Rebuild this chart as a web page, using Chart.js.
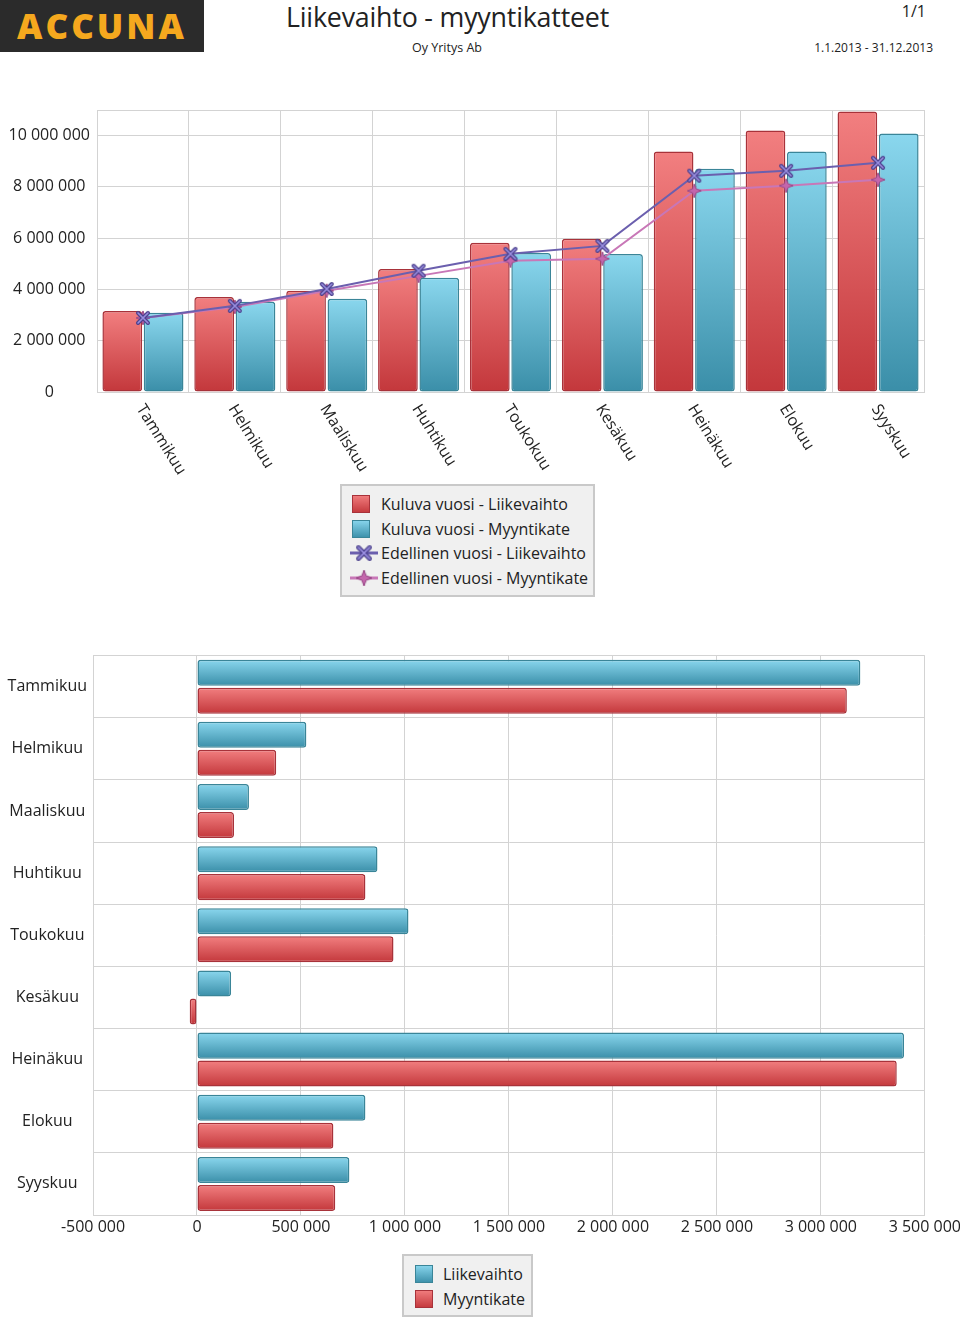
<!DOCTYPE html>
<html>
<head>
<meta charset="utf-8">
<script src="https://cdn.jsdelivr.net/npm/chart.js@4/dist/chart.umd.min.js"></script>
<style>
  body { margin: 0; background: #fff; font-family: "Open Sans", sans-serif; color: #222; }
  #sivu { position: relative; width: 960px; height: 1318px; overflow: hidden; }
  .abs { position: absolute; white-space: nowrap; }
  #logo { left: 0; top: 0; width: 204px; height: 52px; background: #2b2b2b; color: #f5a81e;
          font-weight: 800; font-size: 35px; letter-spacing: 3px; line-height: 52px; text-align: center; }
  #otsikko { left: 286px; top: 0; font-size: 26.8px; line-height: 34px; letter-spacing: -0.2px; }
  #yritys { left: 447px; top: 39px; font-size: 12.5px; transform: translateX(-50%); }
  #sivunro { right: 34px; top: 0; font-size: 16px; }
  #kausi { right: 27px; top: 39px; font-size: 12px; }
  .selite { position: absolute; background: #f0f0f0; border: 2px solid #c9c9c9; box-sizing: border-box; font-size: 16px; }
  .rivi { position: absolute; left: 0; height: 24px; line-height: 24px; }
  .rivi canvas { position: absolute; top: 0; }
  .rivi span { position: absolute; white-space: nowrap; }
  canvas.kaavio { position: absolute; left: 0; }
</style>
</head>
<body>
<div id="sivu">
  <div class="abs" id="logo">ACCUNA</div>
  <div class="abs" id="otsikko">Liikevaihto - myyntikatteet</div>
  <div class="abs" id="yritys">Oy Yritys Ab</div>
  <div class="abs" id="sivunro">1/1</div>
  <div class="abs" id="kausi">1.1.2013 - 31.12.2013</div>

  <canvas class="kaavio" id="kertyma" width="960" height="390" style="top:90px"></canvas>
  <div class="selite" id="selite1" style="left:340px; top:484px; width:255px; height:113px"></div>

  <canvas class="kaavio" id="kuukausi" width="964" height="610" style="top:640px"></canvas>
  <div class="selite" id="selite2" style="left:402px; top:1254px; width:131px; height:63px"></div>
</div>

<script>
// KUUKAUDET
const kuukaudet = ['Tammikuu', 'Helmikuu', 'Maaliskuu', 'Huhtikuu', 'Toukokuu', 'Kesäkuu', 'Heinäkuu', 'Elokuu', 'Syyskuu']

// KERTYMÄ (YLÄKAAVIO)
const kuluvaLiikevaihto = [3160000, 3710000, 3950000, 4800000, 5820000, 5980000, 9380000, 10200000, 10940000]
const kuluvaMyyntikate = [3090000, 3520000, 3640000, 4460000, 5420000, 5380000, 8710000, 9380000, 10080000]
const edellinenLiikevaihto = [2890000, 3360000, 4020000, 4730000, 5390000, 5700000, 8440000, 8630000, 8940000]
const edellinenMyyntikate = [2890000, 3320000, 3950000, 4530000, 5120000, 5200000, 7850000, 8050000, 8280000]
const ylaAkseli = [0, 2000000, 4000000, 6000000, 8000000, 10000000, 11000000]

// KUUKAUSITTAIN (ALAKAAVIO)
const kkLiikevaihto = [3190000, 526000, 250000, 868000, 1017000, 164000, 3400000, 810000, 733000]
const kkMyyntikate = [3125000, 381000, 178000, 810000, 945000, -35000, 3365000, 656000, 665000]

// VÄRIT
const punainenVaalea = '#f27f80'
const punainenTumma = '#c3373b'
const punainenReuna = '#a8323a'
const sininenVaalea = '#8ad7ee'
const sininenTumma = '#3a8ea8'
const sininenReuna = '#3a8598'
const violetti = '#6b5fae'
const pinkki = '#c877b7'
const ruudukko = '#d3d3d3'

function muotoile(arvo) {
    return String(arvo).replace(/\B(?=(\d{3})+(?!\d))/g, ' ')
}

// LIUKUVÄRI PYSTYPYLVÄILLE
function pystyLiuku(vaalea, tumma) {
    return function (c) {
        if (c.type !== 'data') return tumma
        const y = c.chart.scales.y
        if (!y) return tumma
        const a = y.getPixelForValue(c.raw)
        const b = y.getPixelForValue(0)
        if (!Number.isFinite(a) || !Number.isFinite(b) || a === b) return tumma
        const g = c.chart.ctx.createLinearGradient(0, Math.min(a, b), 0, Math.max(a, b))
        g.addColorStop(0, vaalea)
        g.addColorStop(1, tumma)
        return g
    }
}

// LIUKUVÄRI VAAKAPYLVÄILLE
function vaakaLiuku(vaalea, tumma) {
    return function (c) {
        if (c.type !== 'data') return tumma
        const s = c.chart.scales.y
        if (!s) return tumma
        const kategoria = s.height / kuukaudet.length
        const paikka = kategoria * 0.9 / 2
        const keski = s.getPixelForValue(c.dataIndex) + (c.datasetIndex - 0.5) * paikka
        const puoli = paikka * 0.93 / 2
        if (!Number.isFinite(keski) || !Number.isFinite(puoli) || puoli <= 0) return tumma
        const g = c.chart.ctx.createLinearGradient(0, keski - puoli, 0, keski + puoli)
        g.addColorStop(0, vaalea)
        g.addColorStop(1, tumma)
        return g
    }
}

// MERKIT
function risti(koko) {
    const c = document.createElement('canvas')
    c.width = c.height = koko
    const g = c.getContext('2d')
    const m = 3
    g.lineCap = 'round'
    ;[[4, '#4a3f8c'], [1.6, '#9a8fe0']].forEach(([w, col]) => {
        g.lineWidth = w
        g.strokeStyle = col
        g.beginPath()
        g.moveTo(m, m); g.lineTo(koko - m, koko - m)
        g.moveTo(koko - m, m); g.lineTo(m, koko - m)
        g.stroke()
    })
    return c
}

function tahti(koko) {
    const c = document.createElement('canvas')
    c.width = c.height = koko
    const g = c.getContext('2d')
    const r = koko / 2 - 1
    g.beginPath()
    for (let i = 0; i < 8; i++) {
        const a = i * Math.PI / 4 - Math.PI / 2
        const rr = i % 2 === 0 ? r : r * 0.38
        g.lineTo(koko / 2 + rr * Math.cos(a), koko / 2 + rr * Math.sin(a))
    }
    g.closePath()
    g.fillStyle = '#c466ac'
    g.fill()
    g.lineWidth = 1
    g.strokeStyle = '#9a4a88'
    g.stroke()
    return c
}

const ristiMerkki = risti(16)
const tahtiMerkki = tahti(16)

Chart.defaults.font.family = '"Open Sans", sans-serif'
Chart.defaults.font.size = 16
Chart.defaults.color = '#222'

// KALLISTETUT KUUKAUSINIMET
const kallistetut = {
    id: 'kallistetut',
    afterDraw(chart) {
        const x = chart.scales.x
        const ctx = chart.ctx
        ctx.save()
        ctx.font = '16px "Open Sans", sans-serif'
        ctx.fillStyle = '#222'
        ctx.textAlign = 'left'
        ctx.textBaseline = 'middle'
        kuukaudet.forEach((kk, i) => {
            ctx.save()
            ctx.translate(x.getPixelForValue(i) - 3, chart.chartArea.bottom + 14)
            ctx.rotate(58 * Math.PI / 180)
            ctx.fillText(kk, 0, 0)
            ctx.restore()
        })
        ctx.restore()
    }
}

// KERTYMÄKAAVIO
let kertyma = new Chart(document.getElementById('kertyma'), {
    type: 'bar',
    data: {
        labels: kuukaudet,
        datasets: [
            {
                type: 'line',
                label: 'Edellinen vuosi - Liikevaihto',
                data: edellinenLiikevaihto,
                borderColor: violetti,
                borderWidth: 2,
                pointStyle: ristiMerkki,
                tension: 0,
                order: 1
            },
            {
                type: 'line',
                label: 'Edellinen vuosi - Myyntikate',
                data: edellinenMyyntikate,
                borderColor: pinkki,
                borderWidth: 2,
                pointStyle: tahtiMerkki,
                tension: 0,
                order: 2
            },
            {
                label: 'Kuluva vuosi - Liikevaihto',
                data: kuluvaLiikevaihto,
                backgroundColor: pystyLiuku(punainenVaalea, punainenTumma),
                borderColor: punainenReuna,
                borderWidth: 1.5,
                borderRadius: 3,
                borderSkipped: false,
                categoryPercentage: 0.9,
                barPercentage: 0.96,
                order: 3
            },
            {
                label: 'Kuluva vuosi - Myyntikate',
                data: kuluvaMyyntikate,
                backgroundColor: pystyLiuku(sininenVaalea, sininenTumma),
                borderColor: sininenReuna,
                borderWidth: 1.5,
                borderRadius: 3,
                borderSkipped: false,
                categoryPercentage: 0.9,
                barPercentage: 0.96,
                order: 4
            }
        ]
    },
    options: {
        responsive: false,
        animation: false,
        devicePixelRatio: 1,
        layout: { padding: { top: 20, right: 36, left: 0, bottom: 0 } },
        plugins: { legend: { display: false }, tooltip: { enabled: false } },
        scales: {
            x: {
                grid: { color: ruudukko, drawTicks: false },
                border: { color: ruudukko },
                ticks: { display: false },
                afterFit(s) { s.height = 88 }
            },
            y: {
                min: 0,
                max: 11000000,
                grid: { color: ruudukko, drawTicks: false },
                border: { color: ruudukko },
                ticks: {
                    padding: 7,
                    crossAlign: 'center',
                    callback: v => v === 11000000 ? '' : muotoile(v)
                },
                afterBuildTicks(s) { s.ticks = ylaAkseli.map(v => ({ value: v })) },
                afterFit(s) { s.width = 97 }
            }
        }
    },
    plugins: [kallistetut]
})

// KUUKAUSIKAAVIO
let kuukausi = new Chart(document.getElementById('kuukausi'), {
    type: 'bar',
    data: {
        labels: kuukaudet,
        datasets: [
            {
                label: 'Liikevaihto',
                data: kkLiikevaihto,
                backgroundColor: vaakaLiuku(sininenVaalea, sininenTumma),
                borderColor: sininenReuna,
                borderWidth: 1.5,
                borderRadius: 3,
                borderSkipped: false,
                categoryPercentage: 0.9,
                barPercentage: 0.93
            },
            {
                label: 'Myyntikate',
                data: kkMyyntikate,
                backgroundColor: vaakaLiuku(punainenVaalea, punainenTumma),
                borderColor: punainenReuna,
                borderWidth: 1.5,
                borderRadius: 3,
                borderSkipped: false,
                categoryPercentage: 0.9,
                barPercentage: 0.93
            }
        ]
    },
    options: {
        indexAxis: 'y',
        responsive: false,
        animation: false,
        devicePixelRatio: 1,
        layout: { padding: { top: 15, right: 36, left: 0, bottom: 0 } },
        plugins: { legend: { display: false }, tooltip: { enabled: false } },
        scales: {
            x: {
                min: -500000,
                max: 3500000,
                grid: { color: ruudukko, drawTicks: false },
                border: { color: ruudukko },
                ticks: { stepSize: 500000, padding: 3, maxRotation: 0, callback: v => muotoile(v) },
                afterFit(s) { s.height = 35 }
            },
            y: {
                grid: { color: ruudukko, drawTicks: false },
                border: { color: ruudukko },
                ticks: { padding: 6, crossAlign: 'center' },
                afterFit(s) { s.width = 93 }
            }
        }
    }
})

// SELITTEET
function ruutu(vaalea, tumma, reuna) {
    const c = document.createElement('canvas')
    c.width = 24; c.height = 24
    const g = c.getContext('2d')
    const liuku = g.createLinearGradient(0, 3, 0, 21)
    liuku.addColorStop(0, vaalea)
    liuku.addColorStop(1, tumma)
    g.fillStyle = liuku
    g.fillRect(3.5, 3.5, 17, 17)
    g.strokeStyle = reuna
    g.lineWidth = 1
    g.strokeRect(3.5, 3.5, 17, 17)
    return c
}

function viiva(vari, merkki) {
    const c = document.createElement('canvas')
    c.width = 30; c.height = 24
    const g = c.getContext('2d')
    g.strokeStyle = vari
    g.lineWidth = 3
    g.beginPath(); g.moveTo(1, 12); g.lineTo(29, 12); g.stroke()
    g.drawImage(merkki, 15 - 9, 12 - 9, 18, 18)
    return c
}

function teeSelite(id, rivit, kuvaX, tekstiX, alku, vali) {
    const laatikko = document.getElementById(id)
    rivit.forEach(([kuva, teksti], i) => {
        const r = document.createElement('div')
        r.className = 'rivi'
        r.style.top = (alku + i * vali) + 'px'
        kuva.style.left = kuvaX + 'px'
        r.appendChild(kuva)
        const s = document.createElement('span')
        s.textContent = teksti
        s.style.left = tekstiX + 'px'
        r.appendChild(s)
        laatikko.appendChild(r)
    })
}

teeSelite('selite1', [
    [ruutu(punainenVaalea, punainenTumma, punainenReuna), 'Kuluva vuosi - Liikevaihto'],
    [ruutu(sininenVaalea, sininenTumma, sininenReuna), 'Kuluva vuosi - Myyntikate'],
    [viiva(violetti, ristiMerkki), 'Edellinen vuosi - Liikevaihto'],
    [viiva(pinkki, tahtiMerkki), 'Edellinen vuosi - Myyntikate']
], 7, 39, 6, 24.7)

teeSelite('selite2', [
    [ruutu(sininenVaalea, sininenTumma, sininenReuna), 'Liikevaihto'],
    [ruutu(punainenVaalea, punainenTumma, punainenReuna), 'Myyntikate']
], 8, 39, 6, 25)
</script>
</body>
</html>
